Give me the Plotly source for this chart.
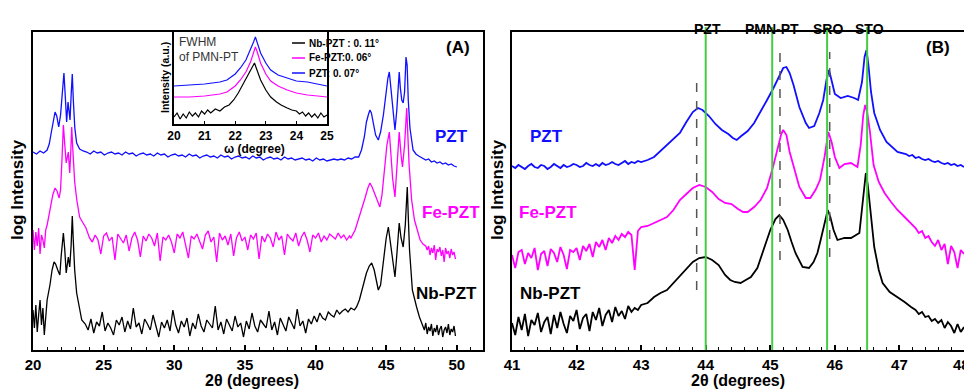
import plotly.graph_objects as go

FONT = "Arial, Liberation Sans, sans-serif"
BLUE = "#1010ff"
MAG = "#ff00ff"
BLK = "#000000"
GREEN = "#44cc44"

def grid(start, step, vals):
    return [round(start + step * i, 3) for i in range(len(vals))]

# ---------------- Panel A: 2theta 20-50 (log intensity, offset, arb. units) ----------------
A_PZT_HEAD_X = [20.0, 20.25, 20.5, 20.75, 21.0, 21.15, 21.3, 21.45, 21.56, 21.68, 21.82, 21.95, 22.08, 22.19,
                22.28, 22.38, 22.48, 22.55, 22.62, 22.7, 22.78, 22.86, 22.96, 23.09, 23.3, 23.55]
A_PZT_HEAD = [198, 196, 199, 197, 200, 206, 218, 232, 238, 234, 223, 235, 262, 277, 255, 228, 248, 240, 230, 255,
              276, 248, 222, 207, 201, 199]
A_PZT_BASE = [198, 196, 199, 197, 198, 195, 197, 198, 196, 197, 195, 198, 196, 197, 194, 196, 197, 195, 196, 194,
              197, 195, 196, 193, 195, 196, 194, 195, 193, 196, 194, 195, 192, 194, 195, 193, 194, 192, 195, 193,
              194, 191, 193, 194, 192, 193, 191, 194, 192, 193, 190, 192, 193, 191, 192, 190, 193, 191, 192, 190,
              191, 192, 190, 191, 189, 192, 190, 191, 189, 190, 191, 190, 191, 190, 192, 191, 193]
A_PZT_PEAK_X = [43.05, 43.25, 43.45, 43.6, 43.75, 43.85, 43.95, 44.1, 44.25, 44.44, 44.6, 44.8, 45.0, 45.12, 45.22,
                45.32, 45.45, 45.62, 45.75, 45.85, 45.92, 46.0, 46.1, 46.2, 46.3, 46.4, 46.48, 46.56, 46.68, 46.9,
                47.1, 47.3, 47.6]
A_PZT_PEAK = [193, 200, 213, 228, 236, 240, 237, 225, 215, 210, 218, 235, 260, 272, 278, 262, 240, 220, 240, 265,
              278, 262, 250, 247, 258, 293, 285, 250, 222, 200, 196, 194, 192]
A_PZT_TAIL = [190, 191, 188, 189, 187, 188, 186, 187, 185, 186, 184, 183]

A_FE_HEAD_X = [20.0, 20.1, 20.2, 20.3, 20.4, 20.5, 20.6, 20.7, 20.8, 20.9, 21.0, 21.2, 21.4, 21.56, 21.7, 21.85,
               21.95, 22.05, 22.15, 22.25, 22.35, 22.5, 22.6, 22.68, 22.74, 22.82, 22.95, 23.1, 23.3, 23.5, 23.75]
A_FE_HEAD = [120, 100, 118, 104, 122, 96, 115, 110, 102, 120, 125, 140, 155, 162, 159, 152, 160, 190, 225, 205, 187,
             198, 177, 200, 223, 200, 168, 150, 133, 128, 122]
A_FE_BASE = [112, 108, 115, 110, 96, 114, 117, 109, 113, 90, 116, 111, 107, 115, 99, 112, 118, 110, 93, 114,
             109, 116, 112, 104, 117, 89, 113, 110, 115, 108, 97, 116, 112, 118, 106, 92, 114, 111, 116, 109,
             101, 115, 119, 108, 113, 88, 117, 110, 114, 105, 116, 94, 112, 118, 109, 113, 100, 115, 111, 117,
             91, 114, 108, 116, 112, 103, 118, 110, 114, 95, 116, 112, 109, 117, 104, 113, 118, 110, 98, 115,
             112, 117, 108, 114, 110, 116, 113, 111, 117, 112, 115, 110, 114]
A_FE_PEAK_X = [42.5, 42.8, 43.1, 43.3, 43.5, 43.7, 43.85, 44.0, 44.2, 44.4, 44.55, 44.7, 44.9, 45.05, 45.22, 45.32,
               45.45, 45.62, 45.75, 45.92, 46.05, 46.15, 46.3, 46.45, 46.53, 46.62, 46.8, 47.0, 47.2, 47.4, 47.6]
A_FE_PEAK = [112, 120, 133, 143, 152, 162, 167, 163, 155, 147, 143, 155, 180, 205, 218, 200, 172, 153, 178, 218, 195,
             183, 205, 242, 215, 185, 150, 130, 120, 110, 106]
A_FE_TAIL = [104, 100, 104, 95, 102, 97, 105, 90, 101, 98, 103, 94, 100, 88, 102, 96, 99, 92, 101, 95, 98, 91]

A_NB_HEAD_X = [20.0, 20.1, 20.2, 20.3, 20.4, 20.5, 20.6, 20.7, 20.8, 20.9, 21.0, 21.2, 21.35, 21.49, 21.6, 21.75,
               21.9, 22.0, 22.15, 22.25, 22.35, 22.5, 22.6, 22.7, 22.78, 22.85, 22.95, 23.09, 23.25, 23.45]
A_NB_HEAD = [40, 22, 45, 18, 35, 50, 25, 42, 15, 38, 50, 65, 80, 88, 86, 80, 75, 95, 117, 100, 77, 93, 83, 105, 134,
             110, 80, 57, 45, 30]
A_NB_BASE = [26, 20, 31, 17, 28, 24, 38, 19, 27, 22, 15, 30, 25, 33, 18, 29, 21, 42, 23, 27,
             16, 31, 26, 20, 35, 24, 13, 28, 22, 30, 19, 40, 25, 17, 29, 23, 32, 14, 27, 21,
             36, 24, 18, 30, 26, 22, 44, 20, 28, 16, 31, 25, 19, 34, 23, 27, 13, 29, 21, 37,
             24, 18, 30, 26, 22, 39, 20, 28, 15, 32, 25, 19, 33, 27, 21, 41, 24, 29, 17, 31,
             26, 34, 28, 37, 32, 30, 38, 35, 33, 40, 36, 39, 41, 38, 42]
A_NB_PEAK_X = [42.75, 42.9, 43.1, 43.3, 43.6, 43.8, 43.97, 44.15, 44.3, 44.44, 44.6, 44.8, 45.0, 45.15, 45.3, 45.45,
               45.62, 45.75, 45.92, 46.05, 46.2, 46.35, 46.49, 46.57, 46.65, 46.85, 47.0, 47.15, 47.35, 47.5]
A_NB_PEAK = [40, 43, 50, 60, 77, 84, 87, 80, 68, 60, 65, 90, 112, 123, 108, 88, 73, 95, 127, 112, 103, 125, 163, 130,
             100, 60, 50, 43, 33, 27]
A_NB_TAIL = [25, 20, 27, 16, 23, 19, 26, 14, 22, 18, 25, 15, 21, 24, 13, 20, 23, 17, 26, 15, 21, 18, 24, 14]

# ---------------- Panel B: 2theta 41-48 ----------------
B_PZT_BASE = [184, 182, 185, 183, 181, 184, 186, 183, 182, 185, 184, 181, 183, 186, 184, 182, 185, 183, 184, 186,
              185, 183, 184, 187, 185, 184, 186, 184, 187, 185, 186, 188, 186, 185, 187, 189, 186, 188, 187, 189, 188]
B_PZT_PEAK_X = [43.1, 43.2, 43.3, 43.4, 43.5, 43.6, 43.7, 43.8, 43.88, 43.95, 44.05, 44.15, 44.25, 44.35, 44.42,
                44.48, 44.55, 44.65, 44.75, 44.85, 44.95, 45.05, 45.12, 45.2, 45.25, 45.3, 45.36, 45.45, 45.55, 45.6,
                45.68, 45.76, 45.82, 45.87, 45.91, 45.95, 46.0, 46.09, 46.2, 46.3, 46.36, 46.42, 46.46, 46.49, 46.52,
                46.56, 46.61, 46.7, 46.8, 46.97]
B_PZT_PEAK = [190, 193, 199, 205, 211, 217, 228, 238, 242, 240, 234, 226, 220, 216, 212, 210, 214, 219, 227, 238,
              250, 262, 272, 282, 283, 277, 265, 243, 227, 222, 224, 237, 250, 270, 280, 270, 256, 252, 254, 252, 250,
              268, 293, 300, 285, 258, 237, 220, 208, 198]
B_PZT_TAIL = [196, 194, 195, 192, 193, 191, 190, 191, 189, 188, 189, 187, 186, 187, 185, 186, 184, 185, 183]

B_FE_BASE = [95, 82, 98, 100, 86, 97, 92, 102, 80, 96, 99, 84, 101, 97, 88, 103, 95, 81, 100, 98, 102, 90, 104, 99,
             106, 93, 108, 103, 110, 100, 112, 107, 114, 110, 116, 113, 118, 115, 80, 119, 123]
B_FE_PEAK_X = [43.1, 43.2, 43.3, 43.4, 43.5, 43.6, 43.7, 43.8, 43.9, 44.0, 44.1, 44.2, 44.3, 44.4, 44.5, 44.58,
               44.65, 44.75, 44.85, 44.95, 45.05, 45.12, 45.17, 45.2, 45.25, 45.3, 45.38, 45.45, 45.55, 45.62, 45.7,
               45.77, 45.84, 45.9, 45.95, 46.0, 46.07, 46.15, 46.25, 46.35, 46.4, 46.44, 46.47, 46.5, 46.54, 46.6,
               46.68, 46.77, 46.87, 46.97, 47.08, 47.18]
B_FE_PEAK = [124, 127, 130, 133, 140, 150, 156, 162, 165, 163, 158, 151, 147, 146, 141, 138, 138, 143, 150, 162, 185,
             205, 216, 220, 215, 198, 178, 163, 152, 152, 160, 170, 193, 218, 208, 193, 182, 186, 187, 183, 205, 235,
             245, 238, 220, 185, 168, 157, 148, 140, 133, 127]
B_FE_TAIL = [122, 117, 119, 112, 114, 108, 104, 110, 100, 106, 86, 104, 98, 82, 100, 96]

B_NB_BASE = [27, 15, 33, 20, 36, 14, 30, 25, 37, 18, 28, 33, 16, 35, 22, 38, 26, 17, 34, 29, 40, 21, 32, 36, 19, 38,
             30, 42, 24, 35, 40, 28, 43, 34, 39, 31, 44, 38, 42, 40, 45]
B_NB_PEAK_X = [43.1, 43.2, 43.3, 43.4, 43.5, 43.6, 43.7, 43.8, 43.9, 44.0, 44.1, 44.2, 44.3, 44.38, 44.45, 44.54,
               44.62, 44.7, 44.8, 44.9, 45.0, 45.08, 45.14, 45.2, 45.27, 45.33, 45.39, 45.5, 45.6, 45.67, 45.73, 45.78,
               45.84, 45.89, 45.93, 45.98, 46.04, 46.15, 46.25, 46.33, 46.38, 46.43, 46.46, 46.48, 46.51, 46.55,
               46.61, 46.68, 46.74, 46.85, 46.97, 47.08, 47.18]
B_NB_PEAK = [47, 53, 57, 60, 67, 73, 81, 88, 92, 93, 90, 85, 75, 70, 68, 67, 70, 73, 82, 100, 120, 131, 135, 130,
             120, 108, 97, 83, 82, 88, 97, 110, 128, 140, 133, 120, 110, 112, 112, 115, 117, 147, 170, 177, 165, 140,
             103, 80, 67, 58, 53, 48, 43]
B_NB_TAIL = [40, 36, 38, 33, 34, 29, 31, 27, 30, 22, 28, 24, 17, 26, 18, 23]
B_TICKS = [41, 42, 43, 44, 45, 46, 47]
B_LAST_TICK = "48"

# ---------------- Inset: omega rocking curves of PMN-PT ----------------
IN_X = [20.0, 20.5, 21.0, 21.5, 21.73, 22.0, 22.17, 22.35, 22.5, 22.6, 22.66, 22.72, 22.83, 23.0, 23.16, 23.4, 23.7,
        24.0, 24.36, 24.7, 25.0]
IN_PZT = [38, 39, 40, 42, 44, 50, 56, 64, 74, 82, 87, 82, 71, 61, 54, 49, 46, 43, 42, 40, 38]
IN_FE = [27, 27, 28, 30, 32, 38, 44, 52, 62, 72, 77, 72, 61, 50, 43, 38, 34, 31, 29, 28, 27]
IN_NB_X = [20.0, 20.1, 20.2, 20.3, 20.4, 20.5, 20.6, 20.7, 20.8, 20.9, 21.0, 21.1, 21.2, 21.35, 21.5, 21.65, 21.8,
           21.95, 22.1, 22.28, 22.45, 22.55, 22.63, 22.7, 22.83, 23.0, 23.16, 23.35, 23.5, 23.7, 23.85, 24.0, 24.1,
           24.2, 24.3, 24.4, 24.5, 24.6, 24.7, 24.8, 24.9, 25.0]
IN_NB = [7, 11, 5, 10, 6, 12, 8, 11, 7, 13, 10, 14, 11, 15, 13, 17, 19, 24, 31, 41, 51, 57, 61, 55, 44, 34, 27, 22,
         19, 16, 14, 13, 10, 12, 8, 11, 7, 10, 6, 11, 7, 9]
IN_LEGEND = [("Nb-PZT : 0. 11°", BLK), ("Fe-PZT:0. 06°", MAG), ("PZT: 0. 07°", BLUE)]

# reference lines in panel B
REF_X = [44.0, 45.03, 45.88, 46.5]
REF_LABELS = ["PZT", "PMN-PT", "SRO", "STO"]
REF_LABEL_X = [44.03, 45.02, 45.9, 46.53]
DASH_X = [43.86, 45.15, 45.92]
DASH_Y0 = [60, 90, 93]
DASH_Y1 = [268, 298, 298]


def series(parts):
    xs, ys = [], []
    for x, y in parts:
        xs += list(x)
        ys += list(y)
    return xs, ys


A_PZT_XS, A_PZT_YS = series([(A_PZT_HEAD_X, A_PZT_HEAD), (grid(23.8, 0.25, A_PZT_BASE), A_PZT_BASE),
                             (A_PZT_PEAK_X, A_PZT_PEAK), (grid(47.8, 0.2, A_PZT_TAIL), A_PZT_TAIL)])
A_FE_XS, A_FE_YS = series([(A_FE_HEAD_X, A_FE_HEAD), (grid(24.0, 0.2, A_FE_BASE), A_FE_BASE),
                           (A_FE_PEAK_X, A_FE_PEAK), (grid(47.8, 0.1, A_FE_TAIL), A_FE_TAIL)])
A_NB_XS, A_NB_YS = series([(A_NB_HEAD_X, A_NB_HEAD), (grid(23.7, 0.2, A_NB_BASE), A_NB_BASE),
                           (A_NB_PEAK_X, A_NB_PEAK), (grid(47.6, 0.1, A_NB_TAIL), A_NB_TAIL)])
B_PZT_XS, B_PZT_YS = series([(grid(41.0, 0.05, B_PZT_BASE), B_PZT_BASE), (B_PZT_PEAK_X, B_PZT_PEAK),
                             (grid(47.1, 0.05, B_PZT_TAIL), B_PZT_TAIL)])
B_FE_XS, B_FE_YS = series([(grid(41.0, 0.05, B_FE_BASE), B_FE_BASE), (B_FE_PEAK_X, B_FE_PEAK),
                           (grid(47.25, 0.05, B_FE_TAIL), B_FE_TAIL)])
B_NB_XS, B_NB_YS = series([(grid(41.0, 0.05, B_NB_BASE), B_NB_BASE), (B_NB_PEAK_X, B_NB_PEAK),
                           (grid(47.25, 0.05, B_NB_TAIL), B_NB_TAIL)])

fig = go.Figure()
for xs, ys, c in [(A_NB_XS, A_NB_YS, BLK), (A_FE_XS, A_FE_YS, MAG), (A_PZT_XS, A_PZT_YS, BLUE)]:
    fig.add_trace(go.Scatter(x=xs, y=ys, mode="lines", line=dict(color=c, width=1.3), xaxis="x", yaxis="y"))
for xs, ys, c in [(B_NB_XS, B_NB_YS, BLK), (B_FE_XS, B_FE_YS, MAG), (B_PZT_XS, B_PZT_YS, BLUE)]:
    fig.add_trace(go.Scatter(x=xs, y=ys, mode="lines", line=dict(color=c, width=1.8), xaxis="x2", yaxis="y2"))
for xs, ys, c in [(IN_NB_X, IN_NB, BLK), (IN_X, IN_FE, MAG), (IN_X, IN_PZT, BLUE)]:
    fig.add_trace(go.Scatter(x=xs, y=ys, mode="lines", line=dict(color=c, width=1.2), xaxis="x3", yaxis="y3"))

# page has an 8 px body margin: the figure is 964x382 placed at (8, 8)
OFF = 8.0
W, H = 972.0 - OFF, 390.0 - OFF
def px(x):
    return (x - OFF) / W
def py(y):
    return (H - (y - OFF)) / H

PLOT_Y = [py(350), py(32)]
frame = dict(showline=True, linecolor="black", linewidth=2, mirror=True, showgrid=False, zeroline=False,
             automargin=False)
tickf = dict(family=FONT, size=15, color="black", weight="bold")

fig.update_layout(
    width=int(W), height=int(H), autosize=False, margin=dict(l=0, r=0, t=0, b=0, pad=0),
    paper_bgcolor="white", plot_bgcolor="white", showlegend=False,
    font=dict(family=FONT, color="black"),
    xaxis=dict(domain=[px(33), px(483)], range=[20, 51.85], anchor="y", tick0=20, dtick=5,
               ticks="inside", ticklen=5, tickwidth=1.5, tickcolor="black", tickfont=tickf,
               ticklabeloverflow="allow",
               minor=dict(dtick=1, ticks="inside", ticklen=3, tickwidth=1.2, tickcolor="black"), **frame),
    yaxis=dict(domain=PLOT_Y, range=[0, 318], anchor="x", showticklabels=False, ticks="", **frame),
    xaxis2=dict(domain=[px(512), px(964)], range=[41, 48], anchor="y2", tickmode="array",
                tickvals=B_TICKS, ticktext=[str(t) for t in B_TICKS],
                ticks="inside", ticklen=5, tickwidth=1.5, tickcolor="black", tickfont=tickf,
                ticklabeloverflow="allow",
                minor=dict(dtick=0.2, tick0=41, ticks="inside", ticklen=3, tickwidth=1.2, tickcolor="black"),
                **frame),
    yaxis2=dict(domain=PLOT_Y, range=[0, 318], anchor="x2", showticklabels=False, ticks="", **frame),
    xaxis3=dict(domain=[px(174), px(327)], range=[20, 25], anchor="y3", dtick=1, ticks="inside",
                ticklen=3, tickwidth=1.2, tickcolor="black",
                tickfont=dict(family=FONT, size=12, color="black", weight="bold"),
                showline=True, linecolor="black", linewidth=1.5, mirror=True, showgrid=False, zeroline=False,
                automargin=False),
    yaxis3=dict(domain=[py(124), py(32)], range=[0, 92], anchor="x3", showticklabels=False, ticks="",
                showline=True, linecolor="black", linewidth=1.5, mirror=True, showgrid=False, zeroline=False,
                automargin=False),
)

shapes = []
for x in REF_X:
    shapes.append(dict(type="line", xref="x2", yref="paper", x0=x, x1=x, y0=py(350), y1=py(27),
                       line=dict(color=GREEN, width=2)))
for x, y0, y1 in zip(DASH_X, DASH_Y0, DASH_Y1):
    shapes.append(dict(type="line", xref="x2", yref="y2", x0=x, x1=x, y0=y0, y1=y1,
                       line=dict(color="#555555", width=1.5, dash="dash")))
ann = []
for i, (lab, c) in enumerate(IN_LEGEND):
    yy = [43, 58, 73][i]
    shapes.append(dict(type="line", xref="paper", yref="paper", x0=px(292), x1=px(305), y0=py(yy), y1=py(yy),
                       line=dict(color=c, width=1.5)))
    ann.append(dict(x=px(307), y=py(yy), xref="paper", yref="paper", text="<b>%s</b>" % lab, showarrow=False,
                    xanchor="left", yanchor="middle", font=dict(size=10, color="black", family=FONT)))
fig.update_layout(shapes=shapes)

for lab, x in zip(REF_LABELS, REF_LABEL_X):
    ann.append(dict(x=x, xref="x2", y=py(19), yref="paper", text="<b>%s</b>" % lab, showarrow=False,
                    font=dict(size=14, color="black", family=FONT)))

def label(text, x, y, xref, yref, size, color="black", angle=0, anchor="center"):
    ann.append(dict(x=x, y=y, xref=xref, yref=yref, text=text, showarrow=False, textangle=angle,
                    xanchor=anchor, yanchor="middle", font=dict(size=size, color=color, family=FONT)))

# last tick label of panel B, kept inside the page edge
label("<b>%s</b>" % B_LAST_TICK, 1.0, py(364), "paper", "paper", 15, anchor="right")
label("<b>log Intensity</b>", px(17), py(190), "paper", "paper", 17, angle=-90)
label("<b>log Intensity</b>", px(497), py(190), "paper", "paper", 17, angle=-90)
label("<b>2θ (degrees)</b>", px(252), py(380), "paper", "paper", 16)
label("<b>2θ (degrees)</b>", px(738), py(380), "paper", "paper", 16)
label("<b>ω (degree)</b>", px(255), py(149), "paper", "paper", 12)
label("<b>Intensity (a.u.)</b>", px(165), py(78), "paper", "paper", 10.5, angle=-90)
label("FWHM", px(177), py(42), "paper", "paper", 12, color="#333333", anchor="left")
label("of PMN-PT", px(177), py(57), "paper", "paper", 12, color="#333333", anchor="left")
label("<b>(A)</b>", px(458), py(47), "paper", "paper", 17)
label("<b>(B)</b>", px(938), py(47), "paper", "paper", 17)

# series labels (data coordinates)
label("<b>PZT</b>", 49.65, 213, "x", "y", 17, color=BLUE)
label("<b>Fe-PZT</b>", 49.6, 137, "x", "y", 17, color=MAG)
label("<b>Nb-PZT</b>", 49.3, 57, "x", "y", 17, color=BLK)
label("<b>PZT</b>", 41.54, 213, "x2", "y2", 17, color=BLUE)
label("<b>Fe-PZT</b>", 41.56, 137, "x2", "y2", 17, color=MAG)
label("<b>Nb-PZT</b>", 41.59, 57, "x2", "y2", 17, color=BLK)

fig.update_layout(annotations=ann)
fig.write_html("out.html")
